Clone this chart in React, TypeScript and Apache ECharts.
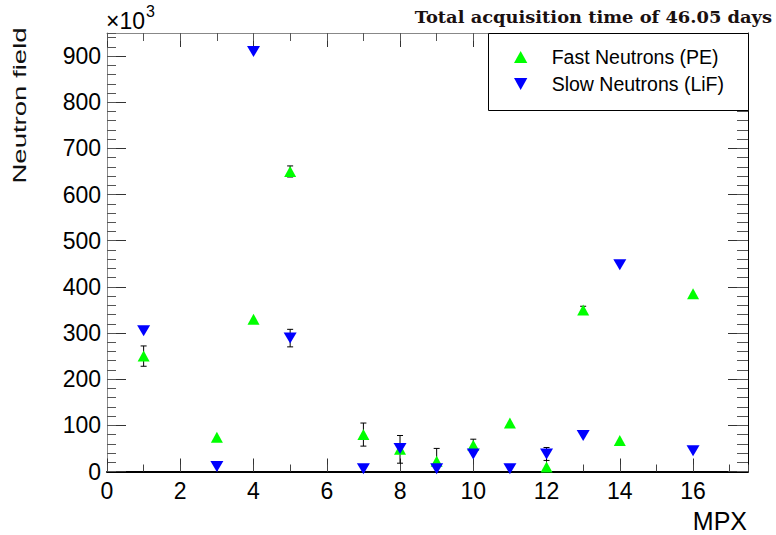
import React, { useEffect, useRef } from "react";
import * as echarts from "echarts";

const mpx = [1, 3, 4, 5, 7, 8, 9, 10, 11, 12, 13, 14, 16];
const fastValues = [250, 74, 330, 650, 80, 48, 22, 57, 105, 10, 350, 67, 385];
const fastErrors = [22, 0, 0, 12, 25, 30, 28, 13, 0, 0, 8, 0, 0];
const slowValues = [305, 11, 910, 289, 6, 50, 6, 38, 6, 38, 78, 448, 45];
const slowErrors = [0, 0, 0, 19, 0, 0, 0, 0, 0, 14, 0, 0, 0];
const seriesNames = ["Fast Neutrons (PE)", "Slow Neutrons (LiF)"];
const titleText = "Total acquisition time of 46.05 days";
const yTitle = "Neutron field";
const xTitle = "MPX";

const SANS = "'Liberation Sans', Arial, sans-serif";
const UP_TRI = "path://M5,0L10,9L0,9Z";
const DOWN_TRI = "path://M0,0L10,0L5,9Z";

export default function App() {
  const ref = useRef<HTMLDivElement>(null);
  useEffect(() => {
    if (!ref.current) return;
    const chart = echarts.init(ref.current, undefined, { renderer: "svg" });
    const errData = (vals: number[], errs: number[]) =>
      mpx.map((x, i) => [x, vals[i], errs[i]]).filter((d) => d[2] > 0);

    const errorRender = (params: any, api: any) => {
      const x = api.value(0);
      const y = api.value(1);
      const e = api.value(2);
      const lo = Math.max(y - e, 0);
      const top = api.coord([x, y + e]);
      const bot = api.coord([x, lo]);
      const cap = 3;
      const st = { stroke: "#000", lineWidth: 1 };
      const children: any[] = [
        { type: "line", shape: { x1: top[0], y1: top[1], x2: bot[0], y2: bot[1] }, style: st },
        { type: "line", shape: { x1: top[0] - cap, y1: top[1], x2: top[0] + cap, y2: top[1] }, style: st },
      ];
      if (y - e > 0) {
        children.push({ type: "line", shape: { x1: bot[0] - cap, y1: bot[1], x2: bot[0] + cap, y2: bot[1] }, style: st });
      }
      return { type: "group", children };
    };

    const xBase = { type: "value", min: 0, max: 17.5, splitLine: { show: false } };
    const yBase = { type: "value", min: 0, max: 950, splitLine: { show: false } };

    chart.setOption({
      animation: false,
      grid: { left: 107, right: 28, top: 33, bottom: 63.5 },
      xAxis: [
        {
          ...xBase, position: "bottom", interval: 2,
          axisLine: { onZero: false, lineStyle: { color: "#000", width: 2 } },
          axisTick: { inside: true, length: 13, lineStyle: { color: "#333" } },
          axisLabel: { fontSize: 23, fontFamily: SANS, color: "#000", margin: 8, showMaxLabel: false },
        },
        {
          ...xBase, position: "bottom", interval: 1,
          axisLine: { show: false, onZero: false },
          axisTick: { inside: true, length: 7, lineStyle: { color: "#444" } },
          axisLabel: { show: false },
        },
        {
          ...xBase, position: "top", interval: 2,
          axisLine: { onZero: false, lineStyle: { color: "#888", width: 1 } },
          axisTick: { inside: true, length: 14, lineStyle: { color: "#333" } },
          axisLabel: { show: false },
        },
        {
          ...xBase, position: "top", interval: 1,
          axisLine: { show: false, onZero: false },
          axisTick: { inside: true, length: 8, lineStyle: { color: "#555" } },
          axisLabel: { show: false },
        },
      ],
      yAxis: [
        {
          ...yBase, position: "left", interval: 100,
          axisLine: { show: true, onZero: false, lineStyle: { color: "#888", width: 1 } },
          axisTick: { show: true, inside: true, length: 19, lineStyle: { color: "#333" } },
          axisLabel: { fontSize: 23, fontFamily: SANS, color: "#000", margin: 6, showMaxLabel: false },
        },
        {
          ...yBase, position: "left", interval: 20,
          axisLine: { show: false, onZero: false },
          axisTick: { show: true, inside: true, length: 9, lineStyle: { color: "#555" } },
          axisLabel: { show: false },
        },
        {
          ...yBase, position: "right", interval: 100,
          axisLine: { show: true, onZero: false, lineStyle: { color: "#000", width: 1 } },
          axisTick: { show: true, inside: true, length: 20, lineStyle: { color: "#333" } },
          axisLabel: { show: false },
        },
        {
          ...yBase, position: "right", interval: 20,
          axisLine: { show: false, onZero: false },
          axisTick: { show: true, inside: true, length: 11, lineStyle: { color: "#555" } },
          axisLabel: { show: false },
        },
      ],
      legend: {
        data: [
          { name: seriesNames[0], icon: UP_TRI },
          { name: seriesNames[1], icon: DOWN_TRI },
        ],
        orient: "vertical",
        left: 514,
        top: 47,
        padding: 0,
        itemWidth: 52,
        itemHeight: 12,
        itemGap: 7,
        textStyle: { fontSize: 19.5, fontFamily: SANS, color: "#000", lineHeight: 20 },
        z: 10,
      },
      graphic: [
        {
          type: "rect", z: 8,
          shape: { x: 488.5, y: 33.5, width: 260, height: 77 },
          style: { fill: "#fff", stroke: "#000", lineWidth: 1 },
        },
        {
          type: "text", x: 772, y: 17, scaleX: 1.05,
          style: {
            text: titleText, fill: "#1a1010", font: "bold 17px 'DejaVu Serif', serif",
            align: "right", verticalAlign: "middle",
          },
        },
        {
          type: "text", x: 20, y: 105.5, rotation: Math.PI / 2, scaleX: 1.45,
          style: { text: yTitle, fill: "#111", font: `19px ${SANS}`, align: "center", verticalAlign: "middle" },
        },
        {
          type: "text", x: 747, y: 521,
          style: { text: xTitle, fill: "#000", font: `25px ${SANS}`, align: "right", verticalAlign: "middle" },
        },
        {
          type: "text", x: 106, y: 32,
          style: { text: "×10", fill: "#000", font: `23px ${SANS}`, align: "left", verticalAlign: "bottom" },
        },
        {
          type: "text", x: 146, y: 3,
          style: { text: "3", fill: "#000", font: `16px ${SANS}`, align: "left", verticalAlign: "top" },
        },
      ],
      series: [
        {
          type: "custom", xAxisIndex: 0, yAxisIndex: 0, z: 1,
          renderItem: errorRender, data: errData(fastValues, fastErrors),
        },
        {
          type: "custom", xAxisIndex: 0, yAxisIndex: 0, z: 1,
          renderItem: errorRender, data: errData(slowValues, slowErrors),
        },
        {
          name: seriesNames[0], type: "scatter", xAxisIndex: 0, yAxisIndex: 0, z: 3,
          symbol: UP_TRI, symbolSize: [12, 11],
          itemStyle: { color: "#00ff00", opacity: 1 },
          data: mpx.map((x, i) => [x, fastValues[i]]),
        },
        {
          name: seriesNames[1], type: "scatter", xAxisIndex: 0, yAxisIndex: 0, z: 4,
          symbol: DOWN_TRI, symbolSize: [13, 11],
          itemStyle: { color: "#0000ff", opacity: 1 },
          data: mpx.map((x, i) => [x, slowValues[i]]),
        },
      ],
    });
    return () => chart.dispose();
  }, []);
  return (
    <div
      ref={ref}
      style={{ position: "fixed", left: 0, top: 0, width: 776, height: 535, background: "#fff" }}
    />
  );
}
